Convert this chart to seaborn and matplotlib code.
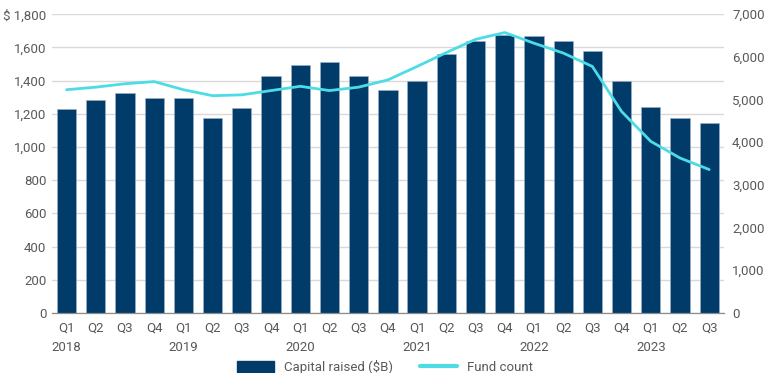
import numpy as np
import pandas as pd
import matplotlib
matplotlib.use("Agg")
import matplotlib.pyplot as plt
import matplotlib.transforms as mtransforms
from matplotlib.patches import Patch
from matplotlib.lines import Line2D
import seaborn as sns

# data
years = ["2018", "2019", "2020", "2021", "2022", "2023"]
quarters = ["Q1", "Q2", "Q3", "Q4", "Q1", "Q2", "Q3", "Q4", "Q1", "Q2", "Q3", "Q4",
            "Q1", "Q2", "Q3", "Q4", "Q1", "Q2", "Q3", "Q4", "Q1", "Q2", "Q3"]
capital_raised = [1228, 1284, 1324, 1294, 1294, 1174, 1236, 1426, 1492, 1510, 1426, 1344,
                  1398, 1560, 1640, 1674, 1668, 1640, 1580, 1400, 1240, 1174, 1146]
fund_count = [5230, 5290, 5370, 5420, 5230, 5090, 5110, 5210, 5310, 5210, 5290, 5460,
              5775, 6100, 6410, 6570, 6320, 6090, 5775, 4720, 4020, 3630, 3360]

navy = "#003B6A"
cyan = "#4DDCE6"
grey = "#595959"

year_of = []
for y in years:
    year_of += [y] * 4
year_of = year_of[:len(quarters)]
df = pd.DataFrame({
    "period": [f"{y} {q}" for y, q in zip(year_of, quarters)],
    "capital": capital_raised,
    "pos": np.arange(len(quarters)),
    "funds": fund_count,
})

sns.set_style("white")
plt.rcParams["font.family"] = ["Roboto", "DejaVu Sans"]

fig = plt.figure(figsize=(7.70, 3.73), dpi=100)
ax = fig.add_axes([0.0675, 0.161, 0.8725, 0.801])

sns.barplot(data=df, x="period", y="capital", color=navy, width=0.66,
            saturation=1, edgecolor="#9FB3C8", linewidth=0.4, ax=ax, zorder=2)
ax.set_ylim(0, 1800)
ax.set_xlim(-0.5, len(quarters) - 0.5)
ax.set_yticks(np.arange(0, 1801, 200))
ax.set_yticklabels([f"{v:,}" if v < 1800 else f"$ {v:,}" for v in range(0, 1801, 200)])
ax.grid(axis="y", color="#D9D9D9", linewidth=1, zorder=0)
ax.set_axisbelow(True)
ax.set_xlabel("")
ax.set_ylabel("")
ax.set_xticks(df["pos"])
ax.set_xticklabels(quarters)
ax.set_xticks(np.arange(-0.5, len(quarters), 1), minor=True)
ax.tick_params(axis="x", which="major", length=0, pad=6, labelsize=9.5, colors=grey)
ax.tick_params(axis="x", which="minor", length=4, color="#8C8C8C", width=0.8)
ax.tick_params(axis="y", length=0, pad=4, labelsize=9.5, colors=grey)
for s in ["top", "right", "left"]:
    ax.spines[s].set_visible(False)
ax.spines["bottom"].set_color("#8C8C8C")
ax.spines["bottom"].set_linewidth(0.9)

# year labels under Q1 of each year
trans = mtransforms.blended_transform_factory(ax.transData, ax.transAxes)
for i, y in enumerate(years):
    ax.text(i * 4, -0.095, y, transform=trans, ha="center", va="top",
            fontsize=9.5, color=grey)

ax2 = ax.twinx()
sns.lineplot(data=df, x="pos", y="funds", color=cyan, linewidth=2.0, ax=ax2,
             solid_joinstyle="round", solid_capstyle="round")
ax2.set_ylim(0, 7000)
ax2.set_xlim(-0.5, len(quarters) - 0.5)
ax2.set_yticks(np.arange(0, 7001, 1000))
ax2.set_yticklabels([f"{v:,}" for v in range(0, 7001, 1000)])
ax2.tick_params(axis="y", length=0, pad=6, labelsize=9.5, colors=grey)
ax2.set_ylabel("")
ax2.set_xlabel("")
for s in ["top", "right", "left", "bottom"]:
    ax2.spines[s].set_visible(False)

handles = [Patch(facecolor=navy, edgecolor=navy),
           Line2D([0], [0], color=cyan, linewidth=3)]
fig.legend(handles, ["Capital raised ($B)", "Fund count"], loc="lower center",
           bbox_to_anchor=(0.5, -0.035), ncol=2, frameon=False, fontsize=9.5,
           labelcolor=grey, handlelength=2.8, handleheight=0.9, columnspacing=2.0)

fig.savefig("out.png", dpi=100)
